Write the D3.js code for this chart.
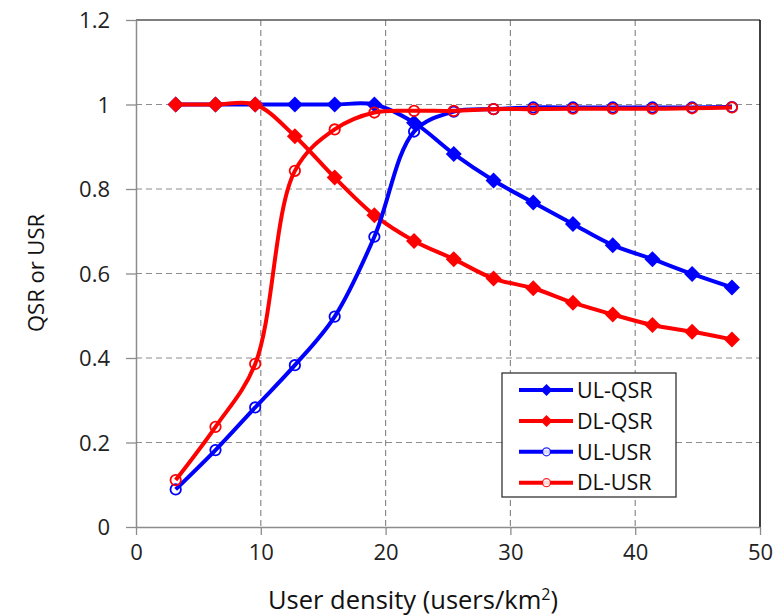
<!DOCTYPE html>
<html><head><meta charset="utf-8">
<script src="https://cdn.jsdelivr.net/npm/d3@7"></script>
<style>body{margin:0;background:#fff}svg{display:block}text{font-family:"Open Sans",Lato,sans-serif}</style>
</head><body><svg id="c" width="776" height="615"></svg>
<script>
const xValues = [3.18, 6.37, 9.55, 12.73, 15.92, 19.10, 22.28, 25.46, 28.65, 31.83, 35.01, 38.20, 41.38, 44.56, 47.75];
const ulQSR = [1.0, 1.0, 1.0, 1.0, 1.0, 1.0, 0.957, 0.883, 0.820, 0.768, 0.717, 0.667, 0.634, 0.599, 0.567];
const dlQSR = [1.0, 1.0, 1.0, 0.925, 0.827, 0.738, 0.677, 0.634, 0.588, 0.565, 0.531, 0.503, 0.478, 0.462, 0.444];
const ulUSR = [0.089, 0.182, 0.283, 0.383, 0.498, 0.687, 0.936, 0.983, 0.989, 0.993, 0.993, 0.993, 0.993, 0.993, 0.994];
const dlUSR = [0.111, 0.237, 0.386, 0.843, 0.941, 0.981, 0.985, 0.985, 0.989, 0.989, 0.990, 0.990, 0.990, 0.991, 0.993];
const seriesNames = ["UL-QSR", "DL-QSR", "UL-USR", "DL-USR"];
const xTicks = [0, 10, 20, 30, 40, 50];
const yTicks = [0, 0.2, 0.4, 0.6, 0.8, 1, 1.2];

const series = [
  {name: seriesNames[0], values: ulQSR, color: "#0000ff", marker: "diamond"},
  {name: seriesNames[1], values: dlQSR, color: "#ff0000", marker: "diamond"},
  {name: seriesNames[2], values: ulUSR, color: "#0000ff", marker: "circle"},
  {name: seriesNames[3], values: dlUSR, color: "#ff0000", marker: "circle"}
];

const svg = d3.select("#c");
const L = 136, R = 760, T = 20, B = 527;
const x = d3.scaleLinear().domain([0, 50]).range([L, R]);
const y = d3.scaleLinear().domain([0, 1.2]).range([B, T]);

// grid
const g = svg.append("g");
g.selectAll("line.hg").data(yTicks.filter(d => d > 0 && d < 1.2)).join("line")
  .attr("x1", L).attr("x2", R).attr("y1", d => y(d)).attr("y2", d => y(d))
  .attr("stroke", "#8c8c8c").attr("stroke-width", 1.2).attr("stroke-dasharray", "6,4");
g.selectAll("line.vg").data(xTicks.filter(d => d > 0 && d < 50)).join("line")
  .attr("x1", d => x(d)).attr("x2", d => x(d)).attr("y1", T).attr("y2", B)
  .attr("stroke", "#8c8c8c").attr("stroke-width", 1.2).attr("stroke-dasharray", "6,4");
// frame top & right
svg.append("line").attr("x1", L).attr("x2", R).attr("y1", y(1.2)).attr("y2", y(1.2)).attr("stroke", "#555").attr("stroke-width", 1.5);
svg.append("line").attr("x1", x(50)).attr("x2", x(50)).attr("y1", T).attr("y2", B).attr("stroke", "#000").attr("stroke-width", 1.5);

// axes
const xAxis = d3.axisBottom(x).tickValues(xTicks).tickFormat(d3.format("d")).tickSize(8).tickSizeOuter(0).tickPadding(10);
const yAxis = d3.axisLeft(y).tickValues(yTicks).tickFormat(d => d === 0 ? "0" : (d === 1 ? "1" : d3.format(".1f")(d))).tickSize(10).tickSizeOuter(0).tickPadding(16);
const gx = svg.append("g").attr("transform", `translate(0,${B})`).call(xAxis);
const gy = svg.append("g").attr("transform", `translate(${L},0)`).call(yAxis);
[gx, gy].forEach(a => {
  a.select(".domain").attr("stroke", "#8c8c8c").attr("stroke-width", 1.5);
  a.selectAll(".tick line").attr("stroke", "#8c8c8c").attr("stroke-width", 1.3);
  a.selectAll(".tick text").attr("fill", "#222").style("font-size", "22px").style("font-family", "'Open Sans', Lato, sans-serif");
});
gy.selectAll(".tick text").attr("dy", "0.36em");
gx.selectAll(".tick text").attr("dy", "0.66em");

// titles
svg.append("text").attr("x", 413).attr("y", 609).attr("text-anchor", "middle")
  .attr("fill", "#111").style("font-size", "25.5px")
  .html('User density (users/km<tspan dy="-9" style="font-size:16px">2</tspan><tspan dy="9">)</tspan>');
svg.append("text").attr("transform", "translate(44,273) rotate(-90)").attr("text-anchor", "middle")
  .attr("fill", "#111").style("font-size", "22px").text("QSR or USR");

// lines
const line = d3.line().x((d, i) => x(xValues[i])).y(d => y(d)).curve(d3.curveCatmullRom.alpha(0.5));
const diamond = s => `M0,${-s}L${s},0L0,${s}L${-s},0Z`;
series.forEach(s => {
  const gs = svg.append("g");
  gs.append("path").attr("d", line(s.values)).attr("fill", "none").attr("stroke", s.color).attr("stroke-width", 4).attr("stroke-linejoin", "round");
  if (s.marker === "diamond") {
    gs.selectAll("path.m").data(s.values).join("path").attr("class", "m")
      .attr("transform", (d, i) => `translate(${x(xValues[i])},${y(d)})`)
      .attr("d", diamond(8)).attr("fill", s.color);
  } else {
    gs.selectAll("circle").data(s.values).join("circle")
      .attr("cx", (d, i) => x(xValues[i])).attr("cy", d => y(d)).attr("r", 5.2)
      .attr("fill", "none").attr("stroke", s.color).attr("stroke-width", 1.8);
  }
});

// legend
const lg = svg.append("g");
lg.append("rect").attr("x", 502).attr("y", 373).attr("width", 174).attr("height", 124)
  .attr("fill", "#fff").attr("stroke", "#333").attr("stroke-width", 1.3);
series.forEach((s, i) => {
  const yy = 390 + i * 30.9;
  lg.append("line").attr("x1", 519).attr("x2", 573).attr("y1", yy).attr("y2", yy).attr("stroke", s.color).attr("stroke-width", 4);
  if (s.marker === "diamond") {
    lg.append("path").attr("transform", `translate(546.5,${yy})`).attr("d", diamond(6)).attr("fill", s.color);
  } else {
    lg.append("circle").attr("cx", 546.5).attr("cy", yy).attr("r", 4).attr("fill", "#fff").attr("stroke", s.color).attr("stroke-width", 1.2).attr("opacity", 0.85);
  }
  lg.append("text").attr("x", 577).attr("y", yy).attr("dy", "0.36em").attr("fill", "#111")
    .style("font-size", "21.5px").text(s.name);
});
</script></body></html>
